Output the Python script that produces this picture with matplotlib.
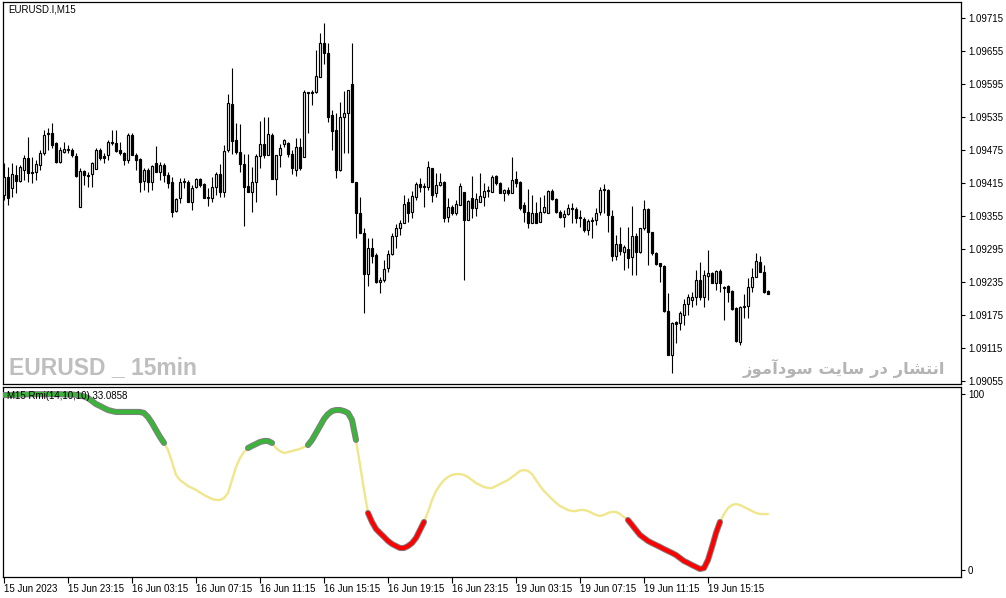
import unicodedata
import numpy as np
import matplotlib
matplotlib.use("Agg")
import matplotlib.pyplot as plt
from matplotlib import patheffects as pe

plt.rcParams['font.family'] = ['Liberation Sans', 'DejaVu Sans']

# price data, EURUSD M15, in points (1e-5)
opens = [109393, 109426, 109406, 109430, 109419, 109439, 109461, 109435, 109435, 109448,
         109470, 109506, 109506, 109488, 109453, 109472, 109475, 109475, 109464, 109372,
         109437, 109430, 109432, 109441, 109475, 109464, 109466, 109488, 109488, 109475,
         109470, 109457, 109503, 109466, 109459, 109419, 109439, 109417, 109452, 109435,
         109448, 109430, 109417, 109364, 109388, 109417, 109417, 109381, 109408, 109423,
         109413, 109388, 109388, 109408, 109432, 109399, 109475, 109559, 109493, 109472,
         109450, 109410, 109399, 109417, 109464, 109486, 109466, 109503, 109423, 109466,
         109486, 109488, 109468, 109439, 109481, 109463, 109579, 109579, 109581, 109608,
         109670, 109652, 109539, 109512, 109439, 109535, 109543, 109595, 109417, 109361,
         109324, 109250, 109297, 109284, 109235, 109239, 109261, 109286, 109319, 109334,
         109343, 109381, 109363, 109390, 109413, 109408, 109408, 109443, 109397, 109412,
         109417, 109354, 109372, 109361, 109375, 109399, 109348, 109388, 109370, 109381,
         109390, 109401, 109399, 109428, 109415, 109397, 109403, 109397, 109423, 109417,
         109375, 109363, 109343, 109361, 109344, 109363, 109361, 109401, 109386, 109363,
         109354, 109359, 109370, 109368, 109352, 109350, 109330, 109346, 109348, 109363,
         109403, 109403, 109355, 109283, 109304, 109290, 109295, 109281, 109319, 109290,
         109334, 109368, 109326, 109288, 109270, 109264, 109183, 109103, 109163, 109161,
         109175, 109195, 109203, 109208, 109239, 109208, 109246, 109252, 109234, 109255,
         109226, 109228, 109219, 109188, 109126, 109190, 109192, 109226, 109244, 109272,
         109254, 109219]
highs = [109452, 109444, 109452, 109448, 109448, 109466, 109499, 109463, 109457, 109475,
         109512, 109515, 109524, 109490, 109481, 109490, 109484, 109479, 109470, 109443,
         109439, 109435, 109453, 109479, 109479, 109470, 109493, 109512, 109512, 109490,
         109472, 109506, 109506, 109470, 109461, 109443, 109443, 109448, 109483, 109453,
         109452, 109435, 109426, 109388, 109424, 109424, 109421, 109412, 109424, 109424,
         109415, 109406, 109426, 109435, 109450, 109484, 109577, 109624, 109524, 109523,
         109468, 109468, 109444, 109468, 109528, 109535, 109535, 109506, 109466, 109486,
         109495, 109490, 109475, 109497, 109497, 109584, 109581, 109584, 109657, 109688,
         109706, 109670, 109548, 109543, 109563, 109583, 109584, 109670, 109417, 109390,
         109334, 109315, 109315, 109288, 109244, 109275, 109294, 109324, 109341, 109348,
         109393, 109388, 109401, 109417, 109424, 109415, 109455, 109443, 109433, 109433,
         109419, 109388, 109375, 109384, 109415, 109399, 109384, 109428, 109397, 109433,
         109415, 109410, 109430, 109430, 109417, 109404, 109408, 109463, 109437, 109419,
         109381, 109404, 109393, 109381, 109390, 109393, 109403, 109404, 109388, 109366,
         109366, 109377, 109379, 109372, 109366, 109354, 109350, 109354, 109370, 109408,
         109413, 109404, 109366, 109321, 109335, 109303, 109335, 109373, 109324, 109334,
         109384, 109370, 109326, 109290, 109270, 109266, 109215, 109163, 109164, 109183,
         109204, 109213, 109217, 109257, 109272, 109257, 109294, 109254, 109257, 109259,
         109228, 109230, 109221, 109190, 109192, 109213, 109243, 109261, 109288, 109283,
         109266, 109221]
lows = [109384, 109375, 109390, 109397, 109417, 109421, 109417, 109415, 109421, 109439,
        109466, 109475, 109479, 109452, 109452, 109470, 109470, 109463, 109426, 109372,
        109412, 109408, 109408, 109441, 109457, 109452, 109457, 109484, 109472, 109466,
        109448, 109452, 109466, 109439, 109399, 109403, 109399, 109403, 109435, 109421,
        109417, 109406, 109354, 109363, 109379, 109406, 109381, 109366, 109406, 109408,
        109388, 109373, 109381, 109393, 109390, 109390, 109472, 109468, 109468, 109435,
        109337, 109399, 109363, 109381, 109443, 109461, 109466, 109423, 109393, 109444,
        109481, 109463, 109432, 109428, 109439, 109463, 109506, 109557, 109579, 109608,
        109632, 109526, 109475, 109424, 109437, 109470, 109470, 109417, 109315, 109324,
        109179, 109228, 109270, 109234, 109215, 109235, 109254, 109284, 109297, 109321,
        109343, 109344, 109352, 109384, 109399, 109372, 109403, 109381, 109390, 109410,
        109344, 109344, 109357, 109357, 109375, 109239, 109348, 109352, 109355, 109381,
        109373, 109390, 109399, 109412, 109397, 109383, 109393, 109397, 109408, 109366,
        109344, 109334, 109343, 109343, 109344, 109361, 109361, 109384, 109361, 109352,
        109335, 109357, 109343, 109343, 109335, 109326, 109321, 109315, 109339, 109357,
        109361, 109326, 109274, 109275, 109284, 109257, 109261, 109248, 109248, 109288,
        109330, 109266, 109284, 109266, 109235, 109181, 109103, 109070, 109124, 109148,
        109157, 109175, 109190, 109194, 109203, 109190, 109203, 109234, 109221, 109217,
        109166, 109199, 109184, 109126, 109121, 109170, 109170, 109217, 109244, 109254,
        109215, 109213]
closes = [109426, 109388, 109432, 109419, 109444, 109461, 109433, 109433, 109450, 109470,
          109503, 109504, 109484, 109453, 109475, 109477, 109476, 109466, 109428, 109437,
          109430, 109428, 109452, 109475, 109461, 109461, 109490, 109489, 109474, 109470,
          109457, 109503, 109466, 109457, 109417, 109439, 109417, 109446, 109435, 109448,
          109430, 109415, 109363, 109386, 109417, 109418, 109381, 109406, 109423, 109412,
          109388, 109389, 109408, 109432, 109399, 109474, 109561, 109492, 109472, 109450,
          109408, 109399, 109417, 109464, 109486, 109466, 109504, 109423, 109466, 109479,
          109493, 109468, 109443, 109481, 109443, 109581, 109580, 109581, 109610, 109670,
          109652, 109535, 109510, 109439, 109535, 109543, 109584, 109417, 109361, 109324,
          109250, 109297, 109283, 109235, 109239, 109259, 109286, 109319, 109334, 109343,
          109377, 109361, 109392, 109413, 109408, 109410, 109444, 109393, 109412, 109417,
          109352, 109372, 109361, 109377, 109410, 109348, 109383, 109370, 109386, 109392,
          109401, 109402, 109426, 109415, 109397, 109403, 109397, 109421, 109415, 109370,
          109363, 109343, 109361, 109343, 109363, 109372, 109401, 109386, 109363, 109354,
          109359, 109370, 109368, 109352, 109353, 109330, 109346, 109347, 109361, 109403,
          109404, 109357, 109283, 109304, 109292, 109299, 109279, 109319, 109290, 109334,
          109368, 109326, 109288, 109268, 109264, 109183, 109103, 109161, 109159, 109179,
          109195, 109208, 109208, 109239, 109208, 109248, 109252, 109234, 109255, 109234,
          109224, 109217, 109186, 109128, 109190, 109191, 109226, 109244, 109274, 109254,
          109217, 109213]

# RMI(14,10,10) values per bar
rmi = [99.4, 99.4, 99.5, 99.6, 99.7, 99.8, 99.8, 99.9, 99.9, 99.9, 99.9, 99.9, 99.9, 99.9, 99.9, 99.8, 99.8, 99.7, 99.5, 99.2,
       98.6, 97.7, 96.0, 94.3, 93.2, 92.0, 90.9, 90.3, 89.8, 89.8, 89.8, 89.8, 89.8, 89.8, 89.8, 89.2, 86.9, 83.5, 79.5, 75.6,
       72.2, 68.2, 61.4, 54.0, 51.1, 49.4, 47.7, 46.6, 45.5, 44.0, 42.6, 41.5, 40.3, 39.8, 39.8, 40.9, 43.8, 51.1, 58.5, 63.6,
       67.0, 69.3, 70.5, 71.6, 72.7, 73.3, 73.3, 72.2, 69.3, 67.6, 66.5, 67.0, 67.6, 68.2, 68.8, 69.9, 71.0, 73.9, 77.8, 81.8,
       85.8, 88.6, 90.3, 90.9, 90.9, 90.3, 89.2, 85.2, 73.9, 59.7, 45.5, 32.4, 27.3, 23.3, 21.0, 18.8, 16.5, 14.8, 13.6, 12.5,
       12.5, 13.6, 15.3, 18.2, 22.7, 27.3, 33.0, 39.8, 44.9, 48.3, 51.1, 52.8, 54.0, 54.5, 54.5, 54.0, 52.8, 51.1, 49.4, 48.3,
       47.2, 46.6, 46.6, 47.7, 48.9, 50.0, 51.1, 52.8, 54.5, 56.3, 56.8, 56.3, 54.5, 51.1, 47.7, 44.9, 42.6, 40.3, 38.1, 36.4,
       35.2, 34.1, 33.5, 33.5, 34.1, 34.1, 33.5, 32.4, 31.3, 30.7, 31.3, 32.4, 33.0, 33.0, 31.8, 30.1, 28.4, 25.6, 22.7, 19.9,
       18.2, 16.5, 15.3, 14.2, 13.1, 11.9, 10.8, 9.7, 8.5, 6.8, 5.1, 4.0, 2.8, 1.7, 0.6, 1.1, 5.7, 13.1, 21.0, 27.3,
       31.8, 35.2, 36.9, 37.5, 36.9, 35.8, 34.7, 33.5, 32.4, 31.8, 31.8, 31.8]
up_ranges = [(0, 40), (61, 67), (76, 88)]
down_ranges = [(91, 105), (156, 179)]

price_ticks = [1.09055, 1.09115, 1.09175, 1.09235, 1.09295, 1.09355,
               1.09415, 1.09475, 1.09535, 1.09595, 1.09655, 1.09715]
time_labels = ['15 Jun 2023', '15 Jun 23:15', '16 Jun 03:15', '16 Jun 07:15',
               '16 Jun 11:15', '16 Jun 15:15', '16 Jun 19:15', '16 Jun 23:15',
               '19 Jun 03:15', '19 Jun 07:15', '19 Jun 11:15', '19 Jun 15:15']
label_bars = [0, 16, 32, 48, 64, 80, 96, 112, 128, 144, 160, 176]

title_txt = 'EURUSD.I,M15'
ind_txt = 'M15 Rmi(14,10,10) 33.0858'
wm_left = 'EURUSD _ 15min'
wm_right = unicodedata.normalize('NFC', 'انتشار در سایت سودآموز')

# simple persian shaping (matplotlib has no arabic layout)
fa_forms = {
    'ا': ('\ufe8d', '\ufe8e', None, None),
    'آ': ('\ufe81', '\ufe82', None, None),
    'د': ('\ufea9', '\ufeaa', None, None),
    'ر': ('\ufead', '\ufeae', None, None),
    'ز': ('\ufeaf', '\ufeb0', None, None),
    'و': ('\ufeed', '\ufeee', None, None),
    'ن': ('\ufee5', '\ufee6', '\ufee7', '\ufee8'),
    'ت': ('\ufe95', '\ufe96', '\ufe97', '\ufe98'),
    'ش': ('\ufeb5', '\ufeb6', '\ufeb7', '\ufeb8'),
    'س': ('\ufeb1', '\ufeb2', '\ufeb3', '\ufeb4'),
    'ی': ('\ufbfc', '\ufbfd', '\ufbfe', '\ufbff'),
    'م': ('\ufee1', '\ufee2', '\ufee3', '\ufee4'),
}


def shape_fa(text):
    words = []
    for w in text.split(' '):
        s = ''
        for i, ch in enumerate(w):
            f = fa_forms[ch]
            pj = i > 0 and fa_forms[w[i - 1]][2] is not None
            nj = i < len(w) - 1 and f[2] is not None
            if pj and nj:
                s += f[3]
            elif pj:
                s += f[1]
            elif nj:
                s += f[2]
            else:
                s += f[0]
        words.append(s)
    return ' '.join(words)[::-1]


o = np.array(opens) / 1e5
h = np.array(highs) / 1e5
l = np.array(lows) / 1e5
c = np.array(closes) / 1e5
x = np.arange(len(c))

W, H = 1006, 598
fig = plt.figure(figsize=(W / 100, H / 100), dpi=100)
ax = fig.add_axes([3 / W, 214 / H, 958 / W, 382 / H])
ax2 = fig.add_axes([3 / W, 21 / H, 958 / W, 190 / H])

# candles
ax.vlines(x, l, h, color='black', lw=0.8, zorder=2)
bull = c >= o
body = np.abs(c - o)
ax.bar(x[bull], body[bull], bottom=o[bull], width=0.5, color='white',
       edgecolor='black', lw=0.85, zorder=3)
ax.bar(x[~bull], body[~bull], bottom=c[~bull], width=0.5, color='black',
       edgecolor='black', lw=0.85, zorder=3)

ax.set_xlim(-0.25, 239.25)
ax.set_ylim(1.090495, 1.097441)
ax.yaxis.tick_right()
ax.set_yticks(price_ticks)
ax.set_yticklabels(['%.5f' % p for p in price_ticks])
ax.set_xticks([])
ax.tick_params(axis='y', direction='out', length=3, width=0.8, pad=2, labelsize=7)

ax.text(5 / 958, 1 - 8 / 382, title_txt, transform=ax.transAxes,
        fontsize=7, va='center', ha='left')
ax.text(6 / 958, 16 / 382, wm_left, transform=ax.transAxes, fontsize=16.5,
        fontweight='bold', color='#BEBEBE', va='center', ha='left')
ax.text(942 / 958, 16 / 382, shape_fa(wm_right), transform=ax.transAxes,
        fontsize=11.8, fontweight='bold', color='#B4B4B4', va='center', ha='right',
        family=['DejaVu Sans'])

# indicator
rv = np.array(rmi)
ax2.plot(x, rv, color='#F0E68C', lw=1.7, zorder=2, solid_capstyle='round')
for a, b in up_ranges:
    ax2.plot(x[a:b + 1], rv[a:b + 1], color='#3CB43C', lw=3, zorder=3,
             solid_capstyle='round',
             path_effects=[pe.Stroke(linewidth=4.4, foreground='#7F7F7F'), pe.Normal()])
for a, b in down_ranges:
    ax2.plot(x[a:b + 1], rv[a:b + 1], color='#FF0000', lw=3, zorder=3,
             solid_capstyle='round',
             path_effects=[pe.Stroke(linewidth=4.4, foreground='#7F7F7F'), pe.Normal()])

ax2.set_xlim(-0.25, 239.25)
ax2.set_ylim(-3.98, 103.98)
ax2.yaxis.tick_right()
ax2.set_yticks([0, 100])
ax2.set_yticklabels(['0', '100'])
ax2.tick_params(axis='y', direction='out', length=3, width=0.8, pad=2, labelsize=7)
ax2.set_xticks(label_bars)
ax2.set_xticklabels(time_labels, ha='left')
ax2.tick_params(axis='x', direction='out', length=4, width=0.8, pad=1, labelsize=7)
ax2.text(4 / 958, 1 - 9 / 190, ind_txt, transform=ax2.transAxes, fontsize=7,
         va='center', ha='left', zorder=5)

for a_ in (ax, ax2):
    for s in a_.spines.values():
        s.set_linewidth(0.9)
        s.set_color('black')

fig.savefig('out.png', dpi=100)
